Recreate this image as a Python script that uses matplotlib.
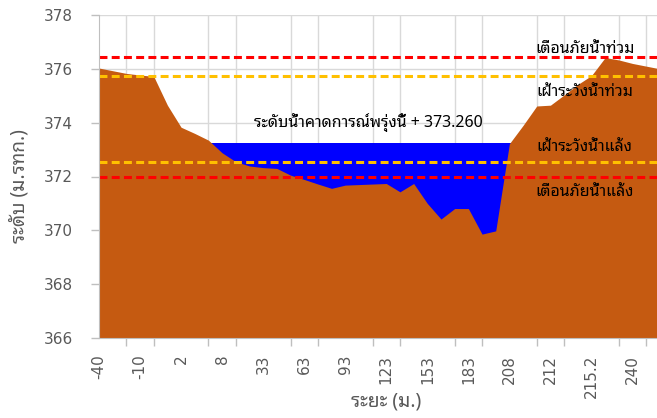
import numpy as np
import matplotlib
matplotlib.use("Agg")
from matplotlib import pyplot as plt

# ระยะ (ม.) - one entry per category on the axis
distance = ["-40", "-30", "-20", "-10", "-5", "0", "2", "4", "6", "8",
            "13", "23", "33", "43", "53", "63", "73", "83", "93", "103",
            "113", "123", "133", "143", "153", "163", "173", "183", "193", "203",
            "208", "210", "211", "212", "213", "214", "215.2", "220", "230", "240",
            "250", "260"]
# ระดับตลิ่ง/ท้องน้ำ (ม.รทก.)
ground = [376.03, 375.93, 375.83, 375.77, 375.72, 374.65, 373.83, 373.60, 373.35, 372.88,
          372.55, 372.39, 372.33, 372.30, 372.05, 371.89, 371.72, 371.56, 371.68, 371.70,
          371.72, 371.74, 371.43, 371.74, 371.00, 370.42, 370.81, 370.81, 369.86, 369.98,
          373.22, 373.90, 374.62, 374.65, 375.03, 375.42, 375.75, 376.42, 376.33, 376.20,
          376.10, 376.00]

water_level = 373.26
flood_warn = 376.45
flood_watch = 375.75
drought_watch = 372.55
drought_warn = 372.0

thai = ["Noto Sans Thai Looped", "DejaVu Sans"]
gray = "#595959"

x = np.arange(len(distance))

fig = plt.figure(figsize=(6.57, 4.18), dpi=100)
ax = fig.add_axes([99 / 657, 1 - 338 / 418, 1 - 99 / 657, 323 / 418])

# น้ำ (ขอบล่างถึงระดับคาดการณ์) แล้วดินทับด้านบน
ax.fill_between(x, 366, water_level, color="#0000FF", linewidth=0, zorder=2)
ax.fill_between(x, 366, ground, color="#C55A11", linewidth=0, zorder=3)

for lvl, col in [(flood_warn, "#FF0000"), (flood_watch, "#FFC000"),
                 (drought_watch, "#FFC000"), (drought_warn, "#FF0000")]:
    ax.axhline(lvl, color=col, lw=2.2, dashes=(2.6, 1.4), zorder=4)

ax.text(35.5, 376.72, "เตือนภัยน้ำท่วม", family=thai, fontsize=11.5, ha="center", va="center", zorder=5)
ax.text(35.5, 375.1, "เฝ้าระวังน้ำท่วม", family=thai, fontsize=11.5, ha="center", va="center", zorder=5)
ax.text(35.5, 373.05, "เฝ้าระวังน้ำแล้ง", family=thai, fontsize=11.5, ha="center", va="center", zorder=5)
ax.text(35.5, 371.42, "เตือนภัยน้ำแล้ง", family=thai, fontsize=11.5, ha="center", va="center", zorder=5)
ax.text(19.7, 373.99, "ระดับน้ำคาดการณ์พรุ่งนี้ + %.3f" % water_level, family=thai,
        fontsize=11.5, ha="center", va="center", zorder=5)

ax.set_xlim(0, (657 - 99) / 13.68)
ax.set_ylim(366, 378)

ax.set_yticks(np.arange(366, 379, 2))
ax.set_xticks(x[::3])
ax.set_xticklabels(distance[::3], rotation=90)
ax.set_xticks(x[::2], minor=True)

ax.tick_params(axis="y", direction="out", length=6, width=1, color="#BFBFBF",
               labelcolor=gray, labelsize=11, pad=13)
ax.tick_params(axis="x", which="major", length=0, labelcolor=gray, labelsize=11, pad=12)
ax.tick_params(axis="x", which="minor", direction="out", length=6, width=1, color="#BFBFBF")

ax.grid(True, axis="y", which="major", color="#D9D9D9", lw=1, zorder=0)
ax.grid(True, axis="x", which="minor", color="#D9D9D9", lw=1, zorder=0)
ax.set_axisbelow(True)

for s in ["top", "right"]:
    ax.spines[s].set_visible(False)
for s in ["left", "bottom"]:
    ax.spines[s].set_color("#BFBFBF")
    ax.spines[s].set_zorder(6)

fig.text(20 / 657, 1 - 186 / 418, "ระดับ (ม.รทก.)", family=thai, fontsize=13.8, color=gray,
         rotation=90, ha="center", va="center", weight="bold")
fig.text(386 / 657, 1 - 402 / 418, "ระยะ (ม.)", family=thai, fontsize=13.8, color=gray,
         ha="center", va="center", weight="bold")

fig.savefig("out.png", dpi=100)
